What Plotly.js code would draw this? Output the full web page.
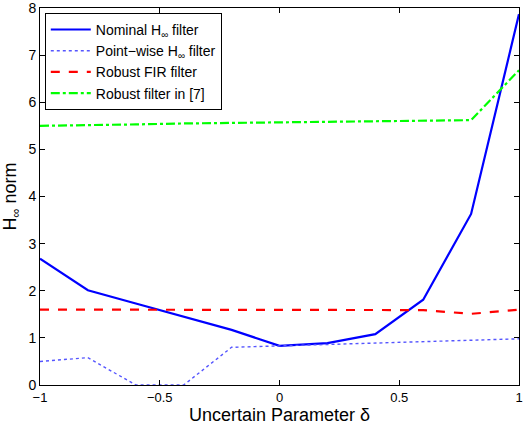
<!DOCTYPE html>
<html><head><meta charset="utf-8">
<script src="https://cdn.plot.ly/plotly-3.0.1.min.js"></script>
<style>html,body{margin:0;padding:0;background:#fff}#g{width:524px;height:429px}</style>
</head><body><div id="g"></div>
<script>
const delta = [-1, -0.8, -0.6, -0.4, -0.2, 0, 0.2, 0.4, 0.6, 0.8, 1];
const nominal = [2.68, 2.01, 1.73, 1.45, 1.17, 0.83, 0.89, 1.08, 1.81, 3.63, 7.87];
const pointwise = [0.5, 0.58, 0, 0, 0.8, 0.83, 0.86, 0.89, 0.92, 0.95, 0.98];
const robustFIR = [1.6, 1.6, 1.6, 1.59, 1.59, 1.6, 1.6, 1.6, 1.59, 1.51, 1.6];
const robust7 = [5.5, 5.51, 5.53, 5.55, 5.56, 5.58, 5.59, 5.6, 5.61, 5.62, 6.68];
const names = ['Nominal H<sub>∞</sub> filter', 'Point−wise H<sub>∞</sub> filter', 'Robust FIR filter', 'Robust filter in [7]'];
const xTickVals = [-1, -0.5, 0, 0.5, 1];
const xTickText = ['−1', '−0.5', '0', '0.5', '1'];
const yTickVals = [0, 1, 2, 3, 4, 5, 6, 7, 8];

const traces = [
  {x: delta, y: nominal, name: names[0], mode: 'lines', line: {color: '#0000ff', width: 2.2}},
  {x: delta, y: pointwise, name: names[1], mode: 'lines', line: {color: '#5555ff', width: 1.4, dash: 'dot'}},
  {x: delta, y: robustFIR, name: names[2], mode: 'lines', line: {color: '#ff0000', width: 2.2, dash: 'dash'}},
  {x: delta, y: robust7, name: names[3], mode: 'lines', line: {color: '#00ff00', width: 2.2, dash: 'dashdot'}}
];
const font = {family: 'Liberation Sans, Arial, sans-serif', color: '#000'};
const layout = {
  width: 524, height: 429,
  margin: {l: 40, r: 5, t: 8, b: 44},
  paper_bgcolor: '#fff', plot_bgcolor: '#fff',
  font: Object.assign({size: 13}, font),
  showlegend: true,
  legend: {x: 0.01, y: 0.987, xanchor: 'left', yanchor: 'top', bgcolor: '#fff', bordercolor: '#000', borderwidth: 1,
           font: {size: 14, family: font.family}, tracegroupgap: 0, itemwidth: 40},
  xaxis: {range: [-1, 1], tickvals: xTickVals, ticktext: xTickText, ticklabeloverflow: 'allow',
          ticks: 'inside', ticklen: 5, tickcolor: '#000', mirror: 'ticks', showline: true, linecolor: '#000', linewidth: 1,
          showgrid: false, zeroline: false, tickfont: {size: 13},
          title: {text: 'Uncertain Parameter δ', font: {size: 18}, standoff: 2}},
  yaxis: {range: [0, 8], tickvals: yTickVals, ticks: 'inside', ticklen: 5, tickcolor: '#000', ticklabeloverflow: 'allow',
          mirror: 'ticks', showline: true, linecolor: '#000', linewidth: 1, showgrid: false, zeroline: false,
          tickfont: {size: 14},
          title: {text: 'H<sub>∞</sub> norm', font: {size: 18}, standoff: 8}}
};
Plotly.newPlot('g', traces, layout, {displayModeBar: false, staticPlot: true});
</script></body></html>
